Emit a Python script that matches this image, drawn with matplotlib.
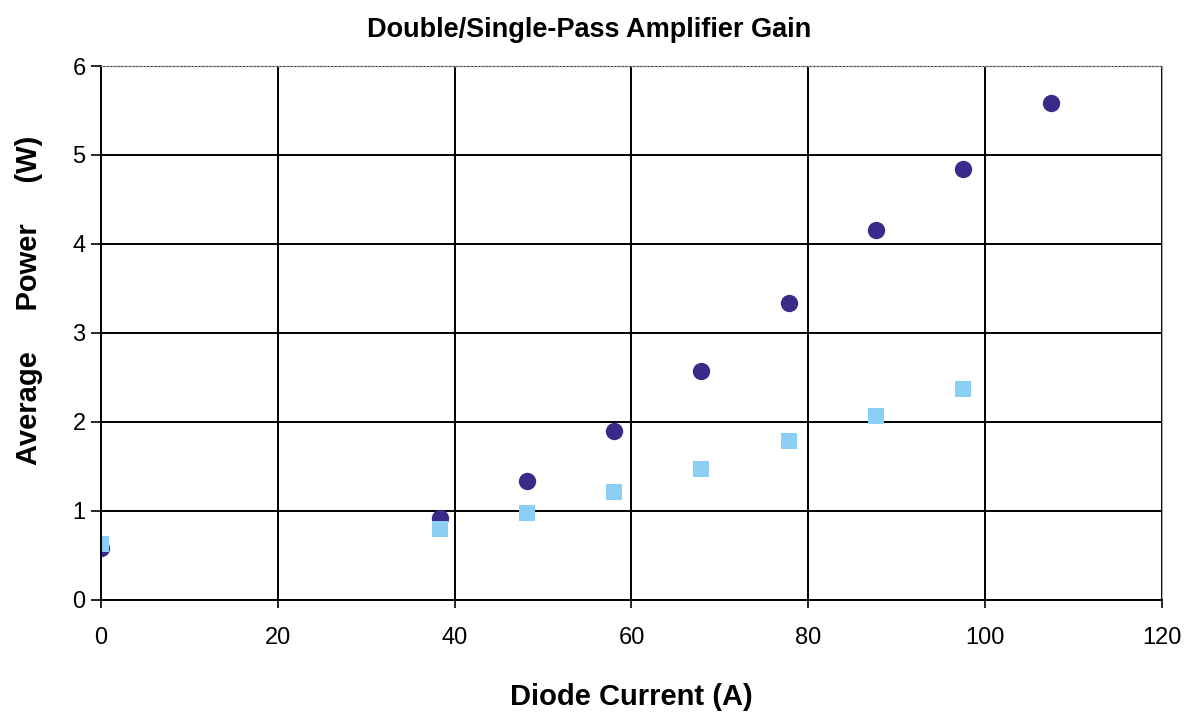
import numpy as np
import matplotlib
matplotlib.use('Agg')
import matplotlib.pyplot as plt

# diode current (A) and average power (W)
double_current = [0, 38.4, 48.2, 58.0, 67.9, 77.8, 87.7, 97.5, 107.4]
double_power = [0.58, 0.92, 1.33, 1.89, 2.57, 3.34, 4.16, 4.84, 5.58]

single_current = [0, 38.4, 48.2, 58.0, 67.9, 77.8, 87.7, 97.5]
single_power = [0.62, 0.79, 0.97, 1.21, 1.47, 1.78, 2.06, 2.37]

x_ticks = [0, 20, 40, 60, 80, 100, 120]
y_ticks = [0, 1, 2, 3, 4, 5, 6]

fig = plt.figure(figsize=(11.87, 7.18), dpi=100)
ax = fig.add_axes([0.085, 0.165, 0.894, 0.743])

ax.grid(True, color='black', linewidth=1.4)
ax.set_axisbelow(True)

ax.plot(double_current, double_power, linestyle='none', marker='o',
        markersize=12.5, color='#3b2a8a', markeredgewidth=0)
ax.plot(single_current, single_power, linestyle='none', marker='s',
        markersize=11.5, color='#8ccff4', markeredgewidth=0)

ax.set_xlim(0, 120)
ax.set_ylim(0, 6)
ax.set_xticks(x_ticks)
ax.set_yticks(y_ticks)

for lab in ax.get_xticklabels() + ax.get_yticklabels():
    lab.set_family('Liberation Sans')
    lab.set_fontsize(17)

ax.tick_params(axis='y', direction='out', length=7, width=1.2, pad=4)
ax.tick_params(axis='x', direction='out', length=6, width=1.2, pad=14)

ax.spines['left'].set_linewidth(1.4)
ax.spines['bottom'].set_linewidth(1.4)
ax.spines['top'].set_color('#999999')
ax.spines['top'].set_linestyle(':')
ax.spines['top'].set_linewidth(1.0)
ax.spines['right'].set_color('#aaaaaa')
ax.spines['right'].set_linewidth(0.8)

fig.text(0.496, 0.958, 'Double/Single-Pass Amplifier Gain', ha='center', va='center',
         fontsize=19.5, fontweight='bold', family='Liberation Sans')
ax.set_xlabel('Diode Current (A)', fontsize=21, fontweight='bold',
              family='Liberation Sans', labelpad=24)
ax.set_ylabel('Average     Power     (W)', fontsize=21, fontweight='bold',
              family='Liberation Sans')
ax.yaxis.set_label_coords(-0.055, 0.56)

plt.savefig('out.png', dpi=100)
